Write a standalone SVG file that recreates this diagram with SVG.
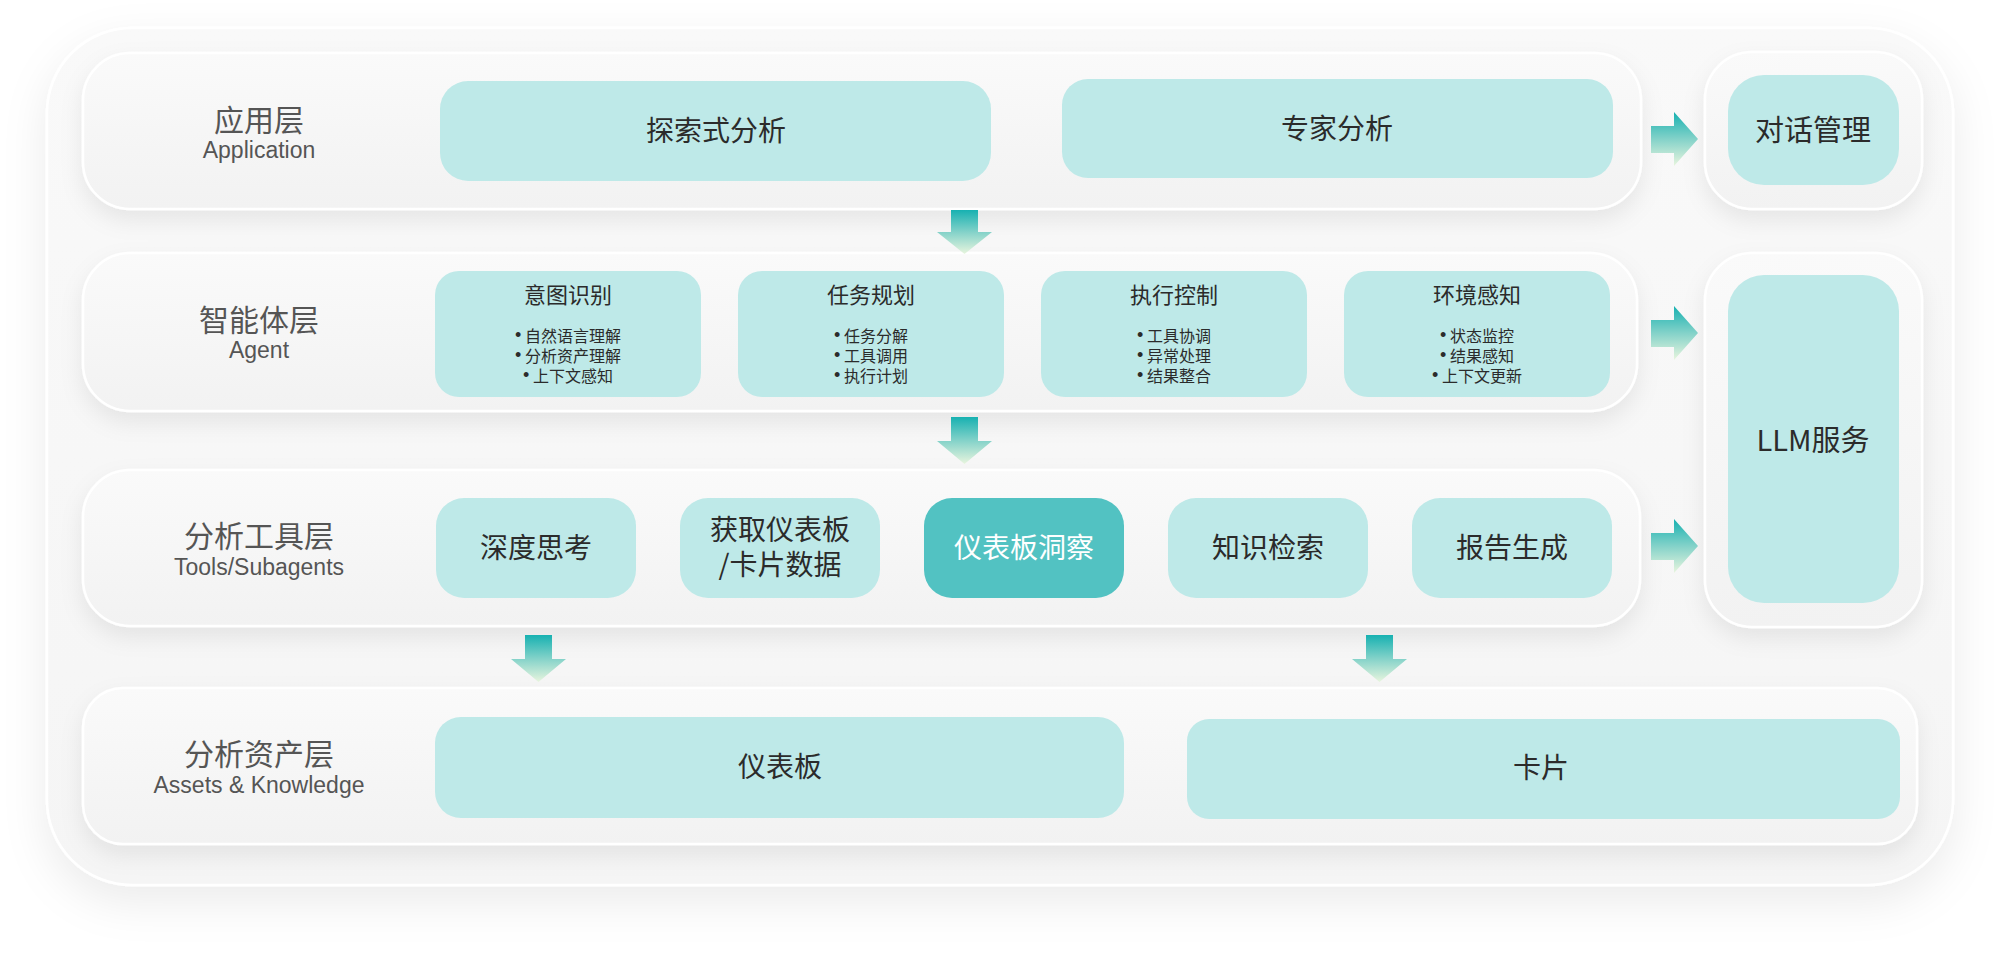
<svg xmlns="http://www.w3.org/2000/svg" width="2001" height="954" viewBox="0 0 2001 954">
<defs>
<linearGradient id="bandFill" x1="0" y1="0" x2="0" y2="1">
<stop offset="0" stop-color="#fafafa"/>
<stop offset="1" stop-color="#f2f2f2"/>
</linearGradient>
<linearGradient id="outerFill" x1="0" y1="0" x2="0" y2="1">
<stop offset="0" stop-color="#f9f9f9"/>
<stop offset="1" stop-color="#f5f5f5"/>
</linearGradient>
<linearGradient id="arrowFill" x1="0" y1="0" x2="0" y2="1">
<stop offset="0" stop-color="#17b1b1"/>
<stop offset="0.5" stop-color="#83d2c9"/>
<stop offset="1" stop-color="#e8f5de"/>
</linearGradient>
<filter id="outerShadow" x="-10%" y="-10%" width="120%" height="125%">
<feDropShadow dx="0" dy="16" stdDeviation="22" flood-color="#000" flood-opacity="0.08"/>
</filter>
<filter id="bandShadow" x="-10%" y="-20%" width="120%" height="160%">
<feDropShadow dx="0" dy="10" stdDeviation="11" flood-color="#000" flood-opacity="0.075"/>
</filter>
<style>
.band{fill:url(#bandFill);stroke:#ffffff;stroke-width:2.5;filter:url(#bandShadow);}
.box{fill:#bee9e8;}
.hi{fill:#52c2c2;}
.arrow{fill:url(#arrowFill);}
.lbl{font-family:"Noto Sans CJK SC","Noto Sans CJK TC",sans-serif;font-size:30px;fill:#555555;text-anchor:middle;dominant-baseline:central;}
.en{font-family:"Liberation Sans","Noto Sans",sans-serif;font-size:23px;fill:#555555;text-anchor:middle;}
.t{font-family:"Noto Sans CJK SC","Noto Sans CJK TC",sans-serif;font-size:28px;fill:#2b2b2b;text-anchor:middle;dominant-baseline:central;}
.tw{fill:#ffffff;}
.h{font-family:"Noto Sans CJK SC","Noto Sans CJK TC",sans-serif;font-size:22px;fill:#2b2b2b;text-anchor:middle;dominant-baseline:central;}
.b{font-family:"Noto Sans CJK SC","Noto Sans CJK TC",sans-serif;font-size:16px;fill:#2b2b2b;text-anchor:middle;dominant-baseline:central;}
.dot{font-family:"Liberation Sans",sans-serif;font-size:18px;}
</style>
</defs>
<rect x="0" y="0" width="2001" height="954" fill="#ffffff"/>
<g id="outer">
<rect x="47" y="28" width="1906" height="857" rx="85" fill="url(#outerFill)" stroke="#ffffff" stroke-width="2.5" filter="url(#outerShadow)"/>
</g>

<g id="layer-application">
<rect class="band" x="83" y="53" width="1558" height="156" rx="47"/>
<text class="lbl" x="259" y="118">应用层</text>
<text class="en" x="259" y="158">Application</text>
</g>
<g id="layer-agent">
<rect class="band" x="83" y="253" width="1554" height="158" rx="47"/>
<text class="lbl" x="259" y="318">智能体层</text>
<text class="en" x="259" y="358">Agent</text>
</g>
<g id="layer-tools">
<rect class="band" x="83" y="470" width="1557" height="156" rx="47"/>
<text class="lbl" x="259" y="534">分析工具层</text>
<text class="en" x="259" y="575">Tools/Subagents</text>
</g>
<g id="layer-assets">
<rect class="band" x="83" y="688" width="1834" height="156" rx="40"/>
<text class="lbl" x="259" y="752">分析资产层</text>
<text class="en" x="259" y="793">Assets &amp; Knowledge</text>
</g>
<g id="dialog-container">
<rect class="band" x="1705" y="52" width="217" height="157" rx="47"/>
</g>
<g id="llm-container">
<rect class="band" x="1705" y="253" width="217" height="374" rx="47"/>
</g>

<g id="node-explore">
<rect class="box" x="440" y="81" width="551" height="100" rx="28"/>
<text class="t" x="716" y="129">探索式分析</text>
</g>
<g id="node-expert">
<rect class="box" x="1062" y="79" width="551" height="99" rx="26"/>
<text class="t" x="1337" y="127">专家分析</text>
</g>
<g id="node-dialog">
<rect class="box" x="1728" y="75" width="171" height="110" rx="36"/>
<text class="t" x="1813" y="128" style="font-size:29px">对话管理</text>
</g>
<g id="node-llm">
<rect class="box" x="1728" y="275" width="171" height="328" rx="36"/>
<text class="t" x="1813" y="438" style="font-size:29px">LLM服务</text>
</g>

<g id="node-intent">
<rect class="box" x="435" y="271" width="266" height="126" rx="24"/>
<text class="h" x="568" y="293">意图识别</text>
<text class="b" x="568" y="335"><tspan class="dot">•</tspan> 自然语言理解</text>
<text class="b" x="568" y="355"><tspan class="dot">•</tspan> 分析资产理解</text>
<text class="b" x="568" y="375"><tspan class="dot">•</tspan> 上下文感知</text>
</g>
<g id="node-plan">
<rect class="box" x="738" y="271" width="266" height="126" rx="24"/>
<text class="h" x="871" y="293">任务规划</text>
<text class="b" x="871" y="335"><tspan class="dot">•</tspan> 任务分解</text>
<text class="b" x="871" y="355"><tspan class="dot">•</tspan> 工具调用</text>
<text class="b" x="871" y="375"><tspan class="dot">•</tspan> 执行计划</text>
</g>
<g id="node-exec">
<rect class="box" x="1041" y="271" width="266" height="126" rx="24"/>
<text class="h" x="1174" y="293">执行控制</text>
<text class="b" x="1174" y="335"><tspan class="dot">•</tspan> 工具协调</text>
<text class="b" x="1174" y="355"><tspan class="dot">•</tspan> 异常处理</text>
<text class="b" x="1174" y="375"><tspan class="dot">•</tspan> 结果整合</text>
</g>
<g id="node-env">
<rect class="box" x="1344" y="271" width="266" height="126" rx="24"/>
<text class="h" x="1477" y="293">环境感知</text>
<text class="b" x="1477" y="335"><tspan class="dot">•</tspan> 状态监控</text>
<text class="b" x="1477" y="355"><tspan class="dot">•</tspan> 结果感知</text>
<text class="b" x="1477" y="375"><tspan class="dot">•</tspan> 上下文更新</text>
</g>

<g id="node-think">
<rect class="box" x="436" y="498" width="200" height="100" rx="28"/>
<text class="t" x="536" y="546">深度思考</text>
</g>
<g id="node-fetch">
<rect class="box" x="680" y="498" width="200" height="100" rx="28"/>
<text class="t" x="780" y="528"><tspan x="780" y="528">获取仪表板</tspan><tspan x="780" y="563">/卡片数据</tspan></text>
</g>
<g id="node-insight">
<rect class="hi" x="924" y="498" width="200" height="100" rx="28"/>
<text class="t tw" x="1024" y="546">仪表板洞察</text>
</g>
<g id="node-knowledge">
<rect class="box" x="1168" y="498" width="200" height="100" rx="28"/>
<text class="t" x="1268" y="546">知识检索</text>
</g>
<g id="node-report">
<rect class="box" x="1412" y="498" width="200" height="100" rx="28"/>
<text class="t" x="1512" y="546">报告生成</text>
</g>

<g id="node-dashboard">
<rect class="box" x="435" y="717" width="689" height="101" rx="26"/>
<text class="t" x="780" y="765">仪表板</text>
</g>
<g id="node-card">
<rect class="box" x="1187" y="719" width="713" height="100" rx="22"/>
<text class="t" x="1541" y="766">卡片</text>
</g>

<g id="connectors">
<polygon class="arrow" points="951,210 978,210 978,232 992,232 964.5,254 937,232 951,232"/>
<polygon class="arrow" points="951,417 978,417 978,441 992,441 964.5,464 937,441 951,441"/>
<polygon class="arrow" points="525,635 552,635 552,659 566,659 538.5,682 511,659 525,659"/>
<polygon class="arrow" points="1366,635 1393,635 1393,659 1407,659 1379.5,682 1352,659 1366,659"/>
<polygon class="arrow" points="1651,126 1674,126 1674,112 1698,139 1674,166 1674,153 1651,153"/>
<polygon class="arrow" points="1651,320 1674,320 1674,306 1698,333 1674,360 1674,347 1651,347"/>
<polygon class="arrow" points="1651,533 1674,533 1674,519 1698,546 1674,573 1674,560 1651,560"/>
</g>
</svg>
